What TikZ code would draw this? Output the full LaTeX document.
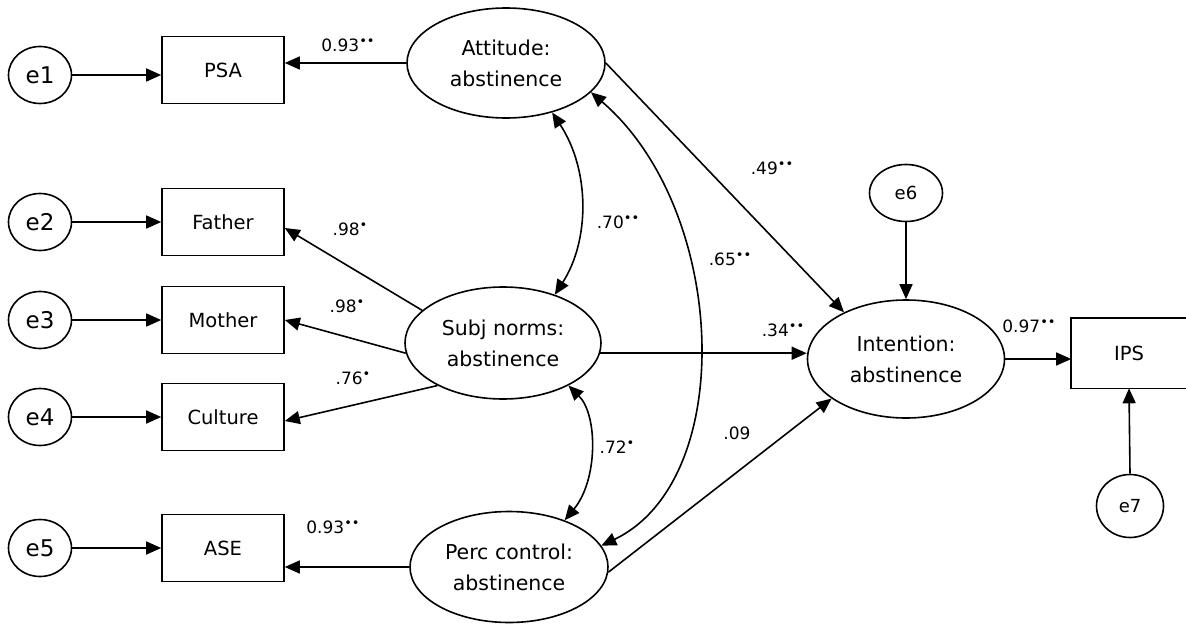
\documentclass[tikz,border=0pt]{standalone}
\usepackage{fontspec}
\setmainfont{DejaVu Sans}
\usetikzlibrary{arrows.meta,shapes.geometric}
\newcommand{\dstar}{\raisebox{0.35em}{\fontsize{13}{13}\selectfont ••}}
\newcommand{\sstar}{\raisebox{0.35em}{\fontsize{13}{13}\selectfont •}}
\begin{document}
\begin{tikzpicture}[x=1pt,y=-1pt,
  every path/.style={line width=1.6pt},
  lat/.style={draw,ellipse,inner sep=0pt,align=center,font=\fontsize{20.5}{31}\selectfont},
  err/.style={draw,ellipse,inner sep=0pt,font=\fontsize{23}{23}\selectfont},
  errs/.style={draw,ellipse,inner sep=0pt,font=\fontsize{18}{18}\selectfont},
  obs/.style={draw,rectangle,inner sep=0pt,minimum width=122pt,minimum height=67pt,font=\fontsize{19.5}{19.5}\selectfont},
  lbl/.style={inner sep=0pt,font=\fontsize{17}{17}\selectfont},
  arr/.style={-{Triangle[length=15pt,width=13pt]}},
  darr/.style={{Triangle[length=15pt,width=13pt]}-{Triangle[length=15pt,width=13pt]}}
]
\useasboundingbox (0,0) rectangle (1186,626);
% latent
\node[lat,minimum width=198pt,minimum height=110pt] (att) at (506,63) {Attitude:\\abstinence};
\node[lat,minimum width=196pt,minimum height=112pt] (sub) at (503,343) {Subj norms:\\abstinence};
\node[lat,minimum width=198pt,minimum height=111pt] (per) at (509,567) {Perc control:\\abstinence};
\node[lat,minimum width=197pt,minimum height=118pt] (int) at (906,359) {Intention:\\abstinence};
% observed
\node[obs] (psa) at (223,70) {PSA};
\node[obs] (fat) at (223,222) {Father};
\node[obs] (mot) at (223,320) {Mother};
\node[obs] (cul) at (223,417) {Culture};
\node[obs] (ase) at (223,548) {ASE};
\node[inner sep=0pt,minimum width=114pt,minimum height=69pt,font=\fontsize{19.5}{19.5}\selectfont] (ips) at (1129,353) {IPS};
\draw (ips.north east) -- (ips.north west) -- (ips.south west) -- (ips.south east);
% errors
\node[err,minimum width=63pt,minimum height=57pt] (e1) at (40,75) {e1};
\node[err,minimum width=63pt,minimum height=57pt] (e2) at (40,222) {e2};
\node[err,minimum width=63pt,minimum height=57pt] (e3) at (40,320) {e3};
\node[err,minimum width=63pt,minimum height=57pt] (e4) at (40,417) {e4};
\node[err,minimum width=63pt,minimum height=57pt] (e5) at (40,548) {e5};
\node[errs,minimum width=73pt,minimum height=57pt] (e6) at (906,193) {e6};
\node[errs,minimum width=67pt,minimum height=63pt] (e7) at (1130,506) {e7};
% error arrows
\draw[arr] (e1.east) -- (e1.east -| psa.west);
\draw[arr] (e2.east) -- (fat.west);
\draw[arr] (e3.east) -- (mot.west);
\draw[arr] (e4.east) -- (cul.west);
\draw[arr] (e5.east) -- (ase.west);
\draw[arr] (e6.south) -- (int.north);
\draw[arr] (e7.north) -- (ips.south);
% loadings
\draw[arr] (att.west) -- (att.west -| psa.east);
\draw[arr] (sub.158) -- ([yshift=-6pt]fat.east);
\draw[arr] (sub.186) -- (mot.east);
\draw[arr] (sub.213) -- ([yshift=-4pt]cul.east);
\draw[arr] (per.west) -- (per.west -| ase.east);
\draw[arr] (int.east) -- (int.east -| ips.west);
% structural
\draw[arr] (att.east) -- (int.143);
\draw[arr] (sub.-6) -- (sub.-6 -| int.west);
\draw[arr] (per.-3) -- (int.208);
% covariances
\draw[darr] (att.-47) .. controls (590,170) and (590,240) .. (sub.43);
\draw[darr] (att.-19) .. controls (728,210) and (738,480) .. (per.13);
\draw[darr] (sub.-33) .. controls (598,415) and (598,480) .. (per.40);
% labels
\node[lbl] (l1) at (348,45) {0.93\dstar};
\node[lbl] (l2) at (350,229) {.98\sstar};
\node[lbl] (l3) at (347,306) {.98\sstar};
\node[lbl] (l4) at (353,378) {.76\sstar};
\node[lbl] (l5) at (333,527) {0.93\dstar};
\node[lbl] (l6) at (618,222) {.70\dstar};
\node[lbl] (l7) at (730,259) {.65\dstar};
\node[lbl] (l8) at (772,168) {.49\dstar};
\node[lbl] (l9) at (783,330) {.34\dstar};
\node[lbl] (l10) at (737,433) {.09};
\node[lbl] (l11) at (617,447) {.72\sstar};
\node[lbl] (l12) at (1029,326) {0.97\dstar};
\end{tikzpicture}
\end{document}
